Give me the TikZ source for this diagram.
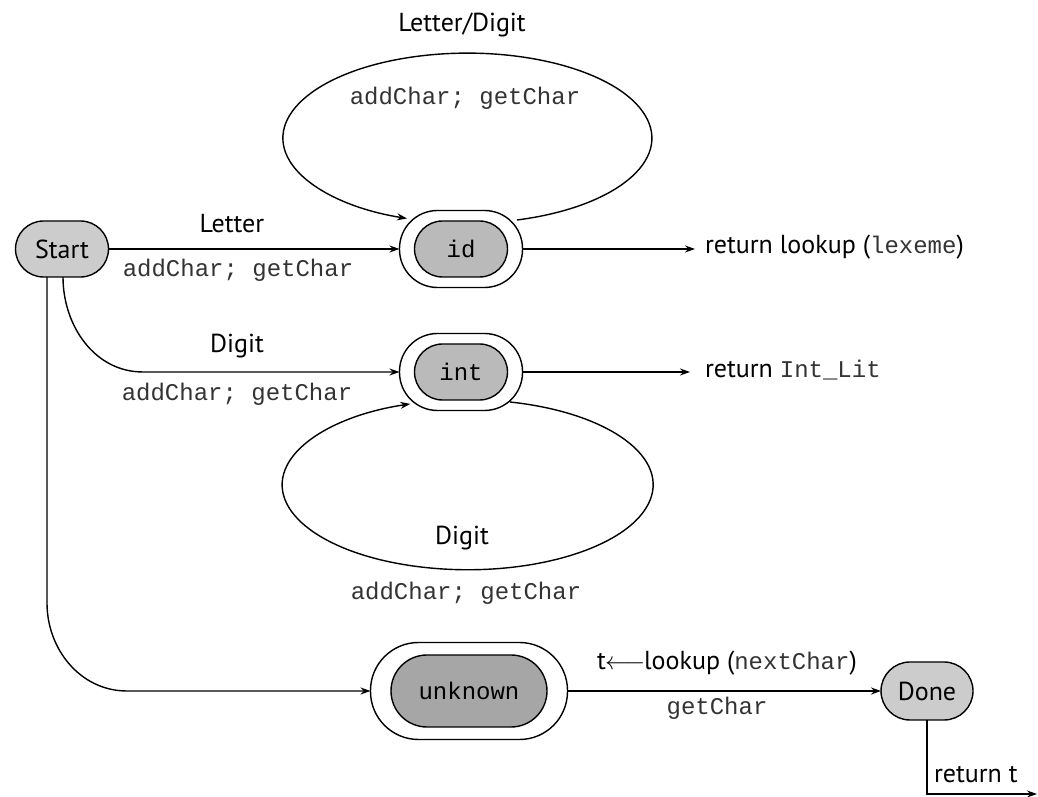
\documentclass[tikz,border=0pt]{standalone}
\usepackage{fontspec}
\setmainfont{PT Sans}
\setsansfont{PT Sans}
\setmonofont{Liberation Mono}
\usetikzlibrary{arrows.meta}
\begin{document}
\begin{tikzpicture}[x=1pt,y=1pt,
  every node/.style={inner sep=0pt,outer sep=0pt},
  conn/.style={line width=1.4pt,-{Stealth[length=10pt,width=7pt]}},
  lab/.style={font=\fontsize{26}{30}\selectfont},
  code/.style={font=\fontsize{24}{28}\ttfamily, text=black!80},
  endst/.style={draw,line width=1.4pt,fill=black!20,minimum width=93pt,minimum height=56pt,rounded corners=28pt,font=\fontsize{26}{30}\selectfont},
  inner/.style={draw,line width=1.4pt,fill=black!27,minimum width=93pt,minimum height=56pt,rounded corners=28pt,font=\fontsize{24}{28}\ttfamily},
  outer/.style={draw,line width=1.4pt,minimum width=123pt,minimum height=77pt,rounded corners=38pt},
]
\useasboundingbox (0,0) rectangle (1038,797);

% states
\node[endst] (start) at (62,548) {Start};
\node[outer] (idO) at (461,548) {};
\node[inner] (id) at (461,548) {id};
\node[outer] (intO) at (461,425) {};
\node[inner] (int) at (461,425) {int};
\node[outer,minimum width=197pt,minimum height=97pt,rounded corners=48pt] (unkO) at (469,106) {};
\node[inner,minimum width=156pt,minimum height=72pt,rounded corners=36pt,fill=black!35] (unk) at (469,106) {unknown};
\node[endst,minimum width=92pt,minimum height=58pt,rounded corners=29pt] (done) at (927,106) {Done};

% free ends
\coordinate (idEnd) at (695,548);
\coordinate (intEnd) at (690,425);
\coordinate (retEnd) at (1037,3);
\coordinate (idLoop) at (517,577);
\coordinate (intLoop) at (510,395);

% Start -> id
\draw[conn] (start.east) -- (idO.west);
\node[lab] (lLetter) at (232,573) {Letter};
\node[code] (cId) at (238,527) {addChar; getChar};

% id loop
\draw[conn] (idLoop) arc[start angle=-74.4, end angle=250.9, x radius=184.5, y radius=85];
\node[lab] (lLD) at (462,772) {Letter/Digit};
\node[code] (cLoop1) at (465,699) {addChar; getChar};

% id -> return
\draw[conn] (idO.east) -- (idEnd);
\node[lab,anchor=west] (rId) at (705,550) {return lookup (\texttt{\fontsize{24}{28}\selectfont\color{black!80}lexeme})};

% Start -> int
\draw[conn] (63,520) to[out=-90,in=180] (143,425) -- (intO.west);
\node[lab] (lDigit) at (237,451) {Digit};
\node[code] (cInt) at (237,403) {addChar; getChar};

% int loop
\draw[conn] (intLoop) arc[start angle=76.8, end angle=-252, x radius=185.5, y radius=85];
\node[lab] (lDigit2) at (462,259) {Digit};
\node[code] (cLoop2) at (466,204) {addChar; getChar};

% int -> return
\draw[conn] (intO.east) -- (intEnd);
\node[lab,anchor=west] (rInt) at (705,427) {return \texttt{\fontsize{24}{28}\selectfont\color{black!80}Int\_Lit}};

% Start -> unknown
\draw[conn] (47,520) -- (47,194) to[out=-90,in=180] (127,106) -- (unkO.west);

% unknown -> Done
\draw[conn] (unkO.east) -- (done.west);
\node[lab] (lLook) at (727,134) {t\kern-1pt$\longleftarrow$\kern-1pt lookup (\texttt{\fontsize{24}{28}\selectfont\color{black!80}nextChar})};
\node[code] (cGet) at (717,89) {getChar};

% Done -> return t
\draw[conn] (done.south) -- (927,3) -- (retEnd);
\node[lab,anchor=west] (rT) at (934,22) {return t};
\end{tikzpicture}
\end{document}
